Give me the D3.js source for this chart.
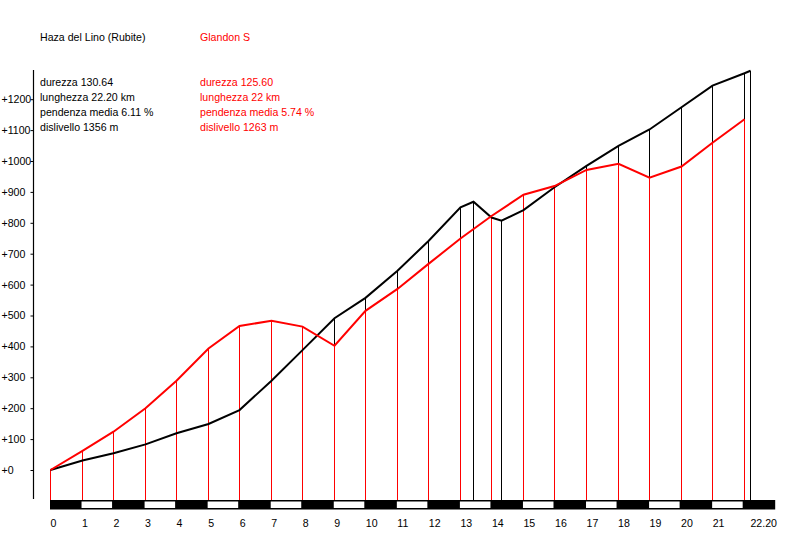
<!DOCTYPE html>
<html>
<head>
<meta charset="utf-8">
<script src="https://cdn.jsdelivr.net/npm/d3@7/dist/d3.min.js"></script>
<style>
  body { margin: 0; background: #fff; }
  svg { display: block; }
  text { font-family: "Liberation Sans", Arial, sans-serif; font-size: 10.6px; }
</style>
</head>
<body>
<svg id="chart" width="800" height="560"></svg>
<script>
// ---- data ----
const hazaName = "Haza del Lino (Rubite)";
const hazaStats = ["durezza 130.64", "lunghezza 22.20 km", "pendenza media 6.11 %", "dislivello 1356 m"];
const hazaKm  = [0, 1, 2, 3, 4, 5, 6, 7, 8, 9, 10, 11, 12, 13, 13.43, 14, 14.31, 15, 16, 17, 18, 19, 20, 21, 22, 22.2];
const hazaAlt = [0, 31, 54, 83, 119, 149, 194, 289, 388, 491, 557, 645, 741, 850, 868, 817, 807, 841, 915, 984, 1049, 1102, 1174, 1244, 1284, 1292];

const glandonName = "Glandon S";
const glandonStats = ["durezza 125.60", "lunghezza 22 km", "pendenza media 5.74 %", "dislivello 1263 m"];
const glandonKm  = [0, 1, 2, 3, 4, 5, 6, 7, 8, 9, 10, 11, 12, 13, 14, 15, 16, 17, 18, 19, 20, 21, 22];
const glandonAlt = [0, 62, 124, 200, 289, 393, 466, 483, 464, 402, 515, 586, 667, 749, 822, 891, 919, 971, 991, 946, 982, 1059, 1135];

const yTicks = [0, 100, 200, 300, 400, 500, 600, 700, 800, 900, 1000, 1100, 1200];
const xTicks = [0, 1, 2, 3, 4, 5, 6, 7, 8, 9, 10, 11, 12, 13, 14, 15, 16, 17, 18, 19, 20, 21, 22.2];
const xTickLabels = ["0","1","2","3","4","5","6","7","8","9","10","11","12","13","14","15","16","17","18","19","20","21","22.20"];
const barKm = d3.range(0, 23); // km segments of the scale bar

// ---- scales ----
const svg = d3.select("#chart");
const x = d3.scaleLinear().domain([0, 23]).range([50, 775.2]);
const y = d3.scaleLinear().domain([0, 1200]).range([470, 99.2]);
const baseY = 500;
const FONT = '"Liberation Sans", Arial, sans-serif';

const haza = hazaKm.map((k, i) => ({ k, a: hazaAlt[i] }));
const glandon = glandonKm.map((k, i) => ({ k, a: glandonAlt[i] }));

// ---- titles & stats ----
svg.append("text").attr("x", 40).attr("y", 41).attr("fill", "#000").text(hazaName);
svg.append("text").attr("x", 200).attr("y", 41).attr("fill", "#ff0000").text(glandonName);
hazaStats.forEach((s, i) => svg.append("text").attr("x", 40).attr("y", 86 + i * 15).attr("fill", "#000").text(s));
glandonStats.forEach((s, i) => svg.append("text").attr("x", 200).attr("y", 86 + i * 15).attr("fill", "#ff0000").text(s));

// ---- y axis ----
svg.append("line").attr("x1", 33.5).attr("x2", 33.5).attr("y1", 70).attr("y2", 499)
  .attr("stroke", "#000").attr("stroke-width", 1.2);
const yAxis = svg.append("g").attr("transform", "translate(33.5,0)")
  .call(d3.axisLeft(y).tickValues(yTicks).tickSize(3).tickFormat(d => "+" + d));
yAxis.select(".domain").remove();
yAxis.selectAll("line").attr("stroke", "#000");
yAxis.selectAll("text").attr("text-anchor", "start").attr("x", -32)
  .style("font-family", FONT).style("font-size", "10.6px").attr("fill", "#000");

// ---- vertical drop lines ----
svg.append("g").selectAll("line").data(haza).join("line")
  .attr("x1", d => Math.round(x(d.k)) + 0.5).attr("x2", d => Math.round(x(d.k)) + 0.5)
  .attr("y1", d => y(d.a)).attr("y2", baseY)
  .attr("stroke", "#000").attr("stroke-width", 1);
svg.append("g").selectAll("line").data(glandon).join("line")
  .attr("x1", d => Math.round(x(d.k)) + 0.5).attr("x2", d => Math.round(x(d.k)) + 0.5)
  .attr("y1", d => y(d.a)).attr("y2", baseY)
  .attr("stroke", "#ff0000").attr("stroke-width", 1);

// ---- profile lines ----
const line = d3.line().x(d => Math.round(x(d.k)) + 0.5).y(d => y(d.a));
svg.append("path").datum(haza).attr("d", line)
  .attr("fill", "none").attr("stroke", "#000").attr("stroke-width", 2);
svg.append("path").datum(glandon).attr("d", line)
  .attr("fill", "none").attr("stroke", "#ff0000").attr("stroke-width", 2);

// ---- km scale bar ----
svg.append("rect").attr("x", x(0)).attr("y", 500).attr("width", x(23) - x(0)).attr("height", 9.5)
  .attr("fill", "#000");
svg.append("g").selectAll("rect").data(barKm.filter(k => k % 2 === 1)).join("rect")
  .attr("x", d => x(d)).attr("y", 501.5)
  .attr("width", d => x(d + 1) - x(d) - 1).attr("height", 6.5)
  .attr("fill", "#fff");

// ---- x labels ----
const xAxis = svg.append("g").attr("transform", "translate(0,509)")
  .call(d3.axisBottom(x).tickValues(xTicks).tickSize(0).tickPadding(0)
    .tickFormat((d, i) => xTickLabels[i]));
xAxis.select(".domain").remove();
xAxis.selectAll("text").attr("text-anchor", "start").attr("dy", null).attr("y", 18)
  .style("font-family", FONT).style("font-size", "10.6px").attr("fill", "#000");
</script>
</body>
</html>
